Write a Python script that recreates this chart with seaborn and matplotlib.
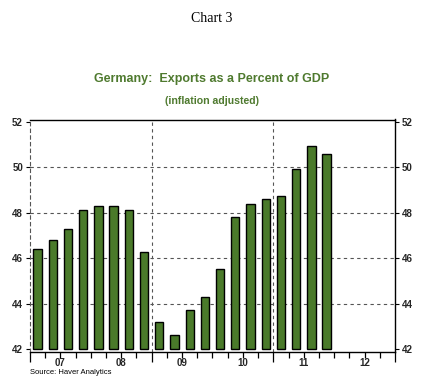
import matplotlib
matplotlib.use("Agg")
import matplotlib.pyplot as plt
import seaborn as sns
import pandas as pd
import numpy as np
from matplotlib.ticker import FixedLocator, NullFormatter

# ---- data ----
quarters = [f"{y}Q{q}" for y in range(2007, 2013) for q in range(1, 5)]
exports_pct_gdp = [46.4, 46.8, 47.3, 48.1,
                   48.3, 48.3, 48.1, 46.25,
                   43.2, 42.6, 43.7, 44.3,
                   45.5, 47.8, 48.37, 48.6,
                   48.72, 49.9, 50.93, 50.6,
                   np.nan, np.nan, np.nan, np.nan]
year_labels = ["07", "08", "09", "10", "11", "12"]
y_ticks = [42, 44, 46, 48, 50, 52]
base = 42

df = pd.DataFrame({"quarter": quarters, "value": exports_pct_gdp})

green = "#4A7A2A"
title_green = "#4F7A2F"

sns.set_theme(style="white")
plt.rcParams["font.family"] = ["Liberation Sans", "DejaVu Sans"]

fig = plt.figure(figsize=(4.24, 3.82), dpi=100)
ax = fig.add_axes([30 / 424, 1 - 352 / 382, 365 / 424, (352 - 119.5) / 382])

sns.barplot(data=df, x="quarter", y="value", order=quarters, color=green,
            saturation=1, width=0.55, edgecolor="black", linewidth=1.0, ax=ax)

# bars start at the axis base value
for patch, v in zip(ax.patches, exports_pct_gdp):
    if np.isnan(v):
        continue
    patch.set_y(base)
    patch.set_height(v - base)

ax.set_xlim(-0.5, len(quarters) - 0.5)
ax.set_ylim(41.87, 52.1)
ax.set_xlabel("")
ax.set_ylabel("")

# y axis: both sides
ax.set_yticks(y_ticks)
ax.set_yticklabels([str(t) for t in y_ticks])
ax.tick_params(axis="y", which="major", left=True, right=True, labelleft=True,
               labelright=True, length=3, width=0.8, color="black",
               labelsize=7, pad=2, direction="out")
for lab in ax.get_yticklabels():
    lab.set_fontweight("bold")

# horizontal dashed grid
for t in y_ticks[1:-1]:
    ax.axhline(t, color="#555555", lw=0.8, ls=(0, (3, 3)), zorder=0)

# x axis: quarter boundaries as minor ticks, long ticks every two years
bounds = np.arange(-0.5, len(quarters), 1.0)
long_bounds = [-0.5, 7.5, 15.5, 23.5]
ax.xaxis.set_major_locator(FixedLocator(long_bounds))
ax.xaxis.set_minor_locator(FixedLocator([b for b in bounds if b not in long_bounds]))
ax.xaxis.set_major_formatter(NullFormatter())
ax.tick_params(axis="x", which="major", length=7, width=0.9, color="black",
               bottom=True, direction="out")
ax.tick_params(axis="x", which="minor", length=4, width=0.9, color="black",
               bottom=True, direction="out")
for i, lab in enumerate(year_labels):
    ax.text(i * 4 + 1.5, -0.025, lab, transform=ax.get_xaxis_transform(),
            ha="center", va="top", fontsize=7, fontweight="bold")

# vertical dashed lines at 2009 and 2011
for b in [7.5, 15.5]:
    ax.axvline(b, color="#555555", lw=0.8, ls=(0, (3, 3)), zorder=0)

# spines
for s in ["top", "right", "bottom"]:
    ax.spines[s].set_visible(True)
    ax.spines[s].set_color("black")
    ax.spines[s].set_linewidth(1.0)
ax.spines["left"].set_color("#555555")
ax.spines["left"].set_linewidth(0.8)
ax.spines["left"].set_linestyle((0, (3, 3)))

# titles
fig.text(0.5, 1 - 18 / 382, "Chart 3", ha="center", va="center",
         fontsize=10, family="Liberation Serif", color="black")
fig.text(0.5, 1 - 79 / 382, "Germany:  Exports as a Percent of GDP",
         ha="center", va="center", fontsize=9, fontweight="bold", color=title_green)
fig.text(0.5, 1 - 101 / 382, "(inflation adjusted)", ha="center", va="center",
         fontsize=7.6, fontweight="bold", color=title_green)
fig.text(30 / 424, 1 - 373 / 382, "Source: Haver Analytics", ha="left", va="center",
         fontsize=5.5, color="black")

fig.savefig("out.png", dpi=100)
